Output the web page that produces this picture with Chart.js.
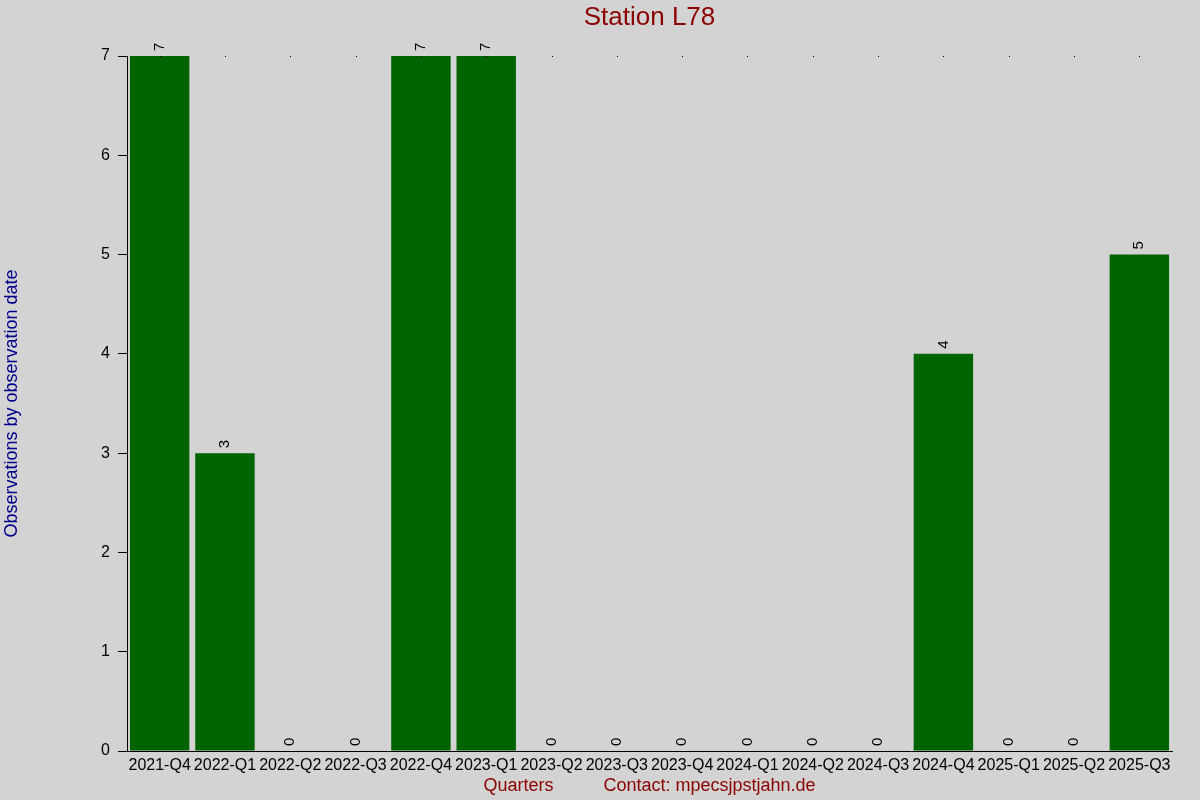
<!DOCTYPE html>
<html>
<head>
<meta charset="utf-8">
<script src="https://cdn.jsdelivr.net/npm/chart.js@4.4.1/dist/chart.umd.min.js"></script>
<style>
  html, body { margin: 0; padding: 0; background: #d3d3d3; }
  #wrap { width: 1200px; height: 800px; }
</style>
</head>
<body>
<div id="wrap"><canvas id="chart"></canvas></div>
<script>
const quarters = [
  '2021-Q4', '2022-Q1', '2022-Q2', '2022-Q3', '2022-Q4', '2023-Q1', '2023-Q2', '2023-Q3',
  '2023-Q4', '2024-Q1', '2024-Q2', '2024-Q3', '2024-Q4', '2025-Q1', '2025-Q2', '2025-Q3',
];
const observations = [7, 3, 0, 0, 7, 7, 0, 0, 0, 0, 0, 0, 4, 0, 0, 5];
const yTicks = [0, 1, 2, 3, 4, 5, 6, 7];
const chartTitle = 'Station L78';

const FONT = "'Liberation Sans', Arial, sans-serif";

const bgPlugin = {
  id: 'bg',
  beforeDraw(chart) {
    const ctx = chart.ctx;
    ctx.save();
    ctx.fillStyle = '#d3d3d3';
    ctx.fillRect(0, 0, chart.width, chart.height);
    ctx.restore();
  },
};

// title centred over the plot area, value labels, small top markers
const labelPlugin = {
  id: 'valueLabels',
  afterDatasetsDraw(chart) {
    const ctx = chart.ctx;
    const meta = chart.getDatasetMeta(0);
    const area = chart.chartArea;
    ctx.save();
    ctx.fillStyle = '#8b0000';
    ctx.font = '26px ' + FONT;
    ctx.textAlign = 'center';
    ctx.textBaseline = 'middle';
    ctx.fillText(chartTitle, (area.left + area.right) / 2, 18);

    ctx.fillStyle = '#000';
    meta.data.forEach((bar) => {
      ctx.fillRect(Math.round(bar.x), area.top, 1, 1);
    });
    ctx.font = '15px ' + FONT;
    ctx.textAlign = 'left';
    meta.data.forEach((bar, i) => {
      ctx.save();
      ctx.translate(bar.x, bar.y - 5);
      ctx.rotate(-Math.PI / 2);
      ctx.fillText(String(observations[i]), 0, 0);
      ctx.restore();
    });
    ctx.restore();
  },
};

new Chart(document.getElementById('chart'), {
  type: 'bar',
  data: {
    labels: quarters,
    datasets: [
      {
        data: observations,
        backgroundColor: '#006400',
        borderWidth: 0,
        barPercentage: 0.91,
        categoryPercentage: 1.0,
      },
    ],
  },
  options: {
    responsive: true,
    maintainAspectRatio: false,
    animation: false,
    devicePixelRatio: 1,
    layout: { padding: { left: 0, right: 28, top: 56, bottom: 0 } },
    plugins: {
      legend: { display: false },
      tooltip: { enabled: false },
      title: { display: false },
    },
    scales: {
      x: {
        grid: { drawOnChartArea: false, drawTicks: false },
        border: { color: '#000', width: 1 },
        ticks: {
          color: '#000',
          font: { family: FONT, size: 16 },
          padding: 5,
          maxRotation: 0,
          autoSkip: false,
        },
        title: {
          display: true,
          text: 'Quarters          Contact: mpecsjpstjahn.de',
          color: '#8b0000',
          font: { family: FONT, size: 18 },
          padding: { top: 0, bottom: 3 },
        },
        afterFit: (s) => { s.height = 49; },
      },
      y: {
        min: 0,
        max: 7,
        afterBuildTicks: (s) => { s.ticks = yTicks.map((v) => ({ value: v })); },
        grid: { drawOnChartArea: false, drawTicks: true, tickLength: 9, color: '#000' },
        border: { color: '#000', width: 1 },
        ticks: {
          color: '#000',
          font: { family: FONT, size: 16 },
          padding: 8,
        },
        title: {
          display: true,
          text: 'Observations by observation date',
          color: '#00008b',
          font: { family: FONT, size: 18 },
          padding: { top: 1, bottom: 0 },
        },
        afterFit: (s) => { s.width = 127; },
      },
    },
  },
  plugins: [bgPlugin, labelPlugin],
});
</script>
</body>
</html>
